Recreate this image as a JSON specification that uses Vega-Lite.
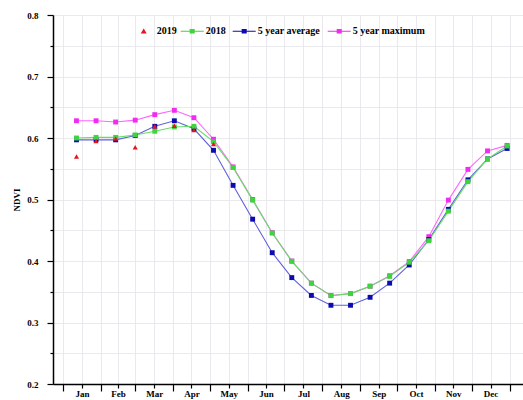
{
  "$schema": "https://vega.github.io/schema/vega-lite/v6.json",
  "autosize": {"type": "none"},
  "width": 470,
  "height": 369,
  "padding": {"left": 53, "top": 15, "right": 0, "bottom": 16},
  "background": "white",
  "config": {
    "font": "Liberation Serif",
    "view": {"stroke": null},
    "axis": {
      "domainColor": "#000000",
      "domainWidth": 1.5,
      "tickColor": "#000000",
      "tickWidth": 1.2,
      "gridColor": "#e3e3ea",
      "gridWidth": 0.8,
      "labelFont": "Liberation Serif",
      "labelFontWeight": "bold",
      "labelFontSize": 9,
      "labelColor": "#000000",
      "titleFont": "Liberation Serif",
      "titleFontWeight": "bold",
      "titleFontSize": 9,
      "titleColor": "#000000"
    },
    "legend": {
      "labelFont": "Liberation Serif",
      "labelFontWeight": "bold",
      "labelFontSize": 10,
      "labelColor": "#000000",
      "padding": 0
    }
  },
  "data": {
    "values": [
      {"day": 11, "series": "5 year maximum", "ndvi": 0.628},
      {"day": 27, "series": "5 year maximum", "ndvi": 0.628},
      {"day": 43, "series": "5 year maximum", "ndvi": 0.626},
      {"day": 59, "series": "5 year maximum", "ndvi": 0.629},
      {"day": 75, "series": "5 year maximum", "ndvi": 0.638},
      {"day": 91, "series": "5 year maximum", "ndvi": 0.645},
      {"day": 107, "series": "5 year maximum", "ndvi": 0.633},
      {"day": 123, "series": "5 year maximum", "ndvi": 0.598},
      {"day": 139, "series": "5 year maximum", "ndvi": 0.553},
      {"day": 155, "series": "5 year maximum", "ndvi": 0.5},
      {"day": 171, "series": "5 year maximum", "ndvi": 0.446},
      {"day": 187, "series": "5 year maximum", "ndvi": 0.4},
      {"day": 203, "series": "5 year maximum", "ndvi": 0.364},
      {"day": 219, "series": "5 year maximum", "ndvi": 0.344},
      {"day": 235, "series": "5 year maximum", "ndvi": 0.347},
      {"day": 251, "series": "5 year maximum", "ndvi": 0.359},
      {"day": 267, "series": "5 year maximum", "ndvi": 0.376},
      {"day": 283, "series": "5 year maximum", "ndvi": 0.399},
      {"day": 299, "series": "5 year maximum", "ndvi": 0.4395},
      {"day": 315, "series": "5 year maximum", "ndvi": 0.499},
      {"day": 331, "series": "5 year maximum", "ndvi": 0.549},
      {"day": 347, "series": "5 year maximum", "ndvi": 0.579},
      {"day": 363, "series": "5 year maximum", "ndvi": 0.588},
      {"day": 11, "series": "5 year average", "ndvi": 0.597},
      {"day": 27, "series": "5 year average", "ndvi": 0.597},
      {"day": 43, "series": "5 year average", "ndvi": 0.597},
      {"day": 59, "series": "5 year average", "ndvi": 0.604},
      {"day": 75, "series": "5 year average", "ndvi": 0.619},
      {"day": 91, "series": "5 year average", "ndvi": 0.628},
      {"day": 107, "series": "5 year average", "ndvi": 0.615},
      {"day": 123, "series": "5 year average", "ndvi": 0.58},
      {"day": 139, "series": "5 year average", "ndvi": 0.523},
      {"day": 155, "series": "5 year average", "ndvi": 0.468},
      {"day": 171, "series": "5 year average", "ndvi": 0.4135},
      {"day": 187, "series": "5 year average", "ndvi": 0.373},
      {"day": 203, "series": "5 year average", "ndvi": 0.344},
      {"day": 219, "series": "5 year average", "ndvi": 0.328},
      {"day": 235, "series": "5 year average", "ndvi": 0.328},
      {"day": 251, "series": "5 year average", "ndvi": 0.341},
      {"day": 267, "series": "5 year average", "ndvi": 0.364},
      {"day": 283, "series": "5 year average", "ndvi": 0.3935},
      {"day": 299, "series": "5 year average", "ndvi": 0.435},
      {"day": 315, "series": "5 year average", "ndvi": 0.484},
      {"day": 331, "series": "5 year average", "ndvi": 0.532},
      {"day": 347, "series": "5 year average", "ndvi": 0.566},
      {"day": 363, "series": "5 year average", "ndvi": 0.583},
      {"day": 11, "series": "2018", "ndvi": 0.6},
      {"day": 27, "series": "2018", "ndvi": 0.601},
      {"day": 43, "series": "2018", "ndvi": 0.601},
      {"day": 59, "series": "2018", "ndvi": 0.605},
      {"day": 75, "series": "2018", "ndvi": 0.611},
      {"day": 91, "series": "2018", "ndvi": 0.618},
      {"day": 107, "series": "2018", "ndvi": 0.619},
      {"day": 123, "series": "2018", "ndvi": 0.594},
      {"day": 139, "series": "2018", "ndvi": 0.552},
      {"day": 155, "series": "2018", "ndvi": 0.499},
      {"day": 171, "series": "2018", "ndvi": 0.4455},
      {"day": 187, "series": "2018", "ndvi": 0.3995},
      {"day": 203, "series": "2018", "ndvi": 0.364},
      {"day": 219, "series": "2018", "ndvi": 0.3436},
      {"day": 235, "series": "2018", "ndvi": 0.347},
      {"day": 251, "series": "2018", "ndvi": 0.359},
      {"day": 267, "series": "2018", "ndvi": 0.375},
      {"day": 283, "series": "2018", "ndvi": 0.398},
      {"day": 299, "series": "2018", "ndvi": 0.433},
      {"day": 315, "series": "2018", "ndvi": 0.481},
      {"day": 331, "series": "2018", "ndvi": 0.529},
      {"day": 347, "series": "2018", "ndvi": 0.566},
      {"day": 363, "series": "2018", "ndvi": 0.587},
      {"day": 11, "series": "2019", "ndvi": 0.57},
      {"day": 27, "series": "2019", "ndvi": 0.595},
      {"day": 43, "series": "2019", "ndvi": 0.599},
      {"day": 59, "series": "2019", "ndvi": 0.585},
      {"day": 75, "series": "2019", "ndvi": 0.619},
      {"day": 91, "series": "2019", "ndvi": 0.62},
      {"day": 107, "series": "2019", "ndvi": 0.613},
      {"day": 123, "series": "2019", "ndvi": 0.59}
    ]
  },
  "encoding": {
    "x": {
      "field": "day",
      "type": "quantitative",
      "scale": {"domain": [-8.2, 376], "nice": false, "zero": false},
      "axis": {
        "title": null,
        "values": [0, 15.5, 31, 45, 59, 74.5, 90, 105, 120, 135.5, 151, 166, 181, 196.5, 212, 227.5, 243, 258, 273, 288.5, 304, 319, 334, 349.5, 365],
        "labelExpr": "indexof([15.5,45,74.5,105,135.5,166,196.5,227.5,258,288.5,319,349.5], datum.value) >= 0 ? ['Jan','Feb','Mar','Apr','May','Jun','Jul','Aug','Sep','Oct','Nov','Dec'][indexof([15.5,45,74.5,105,135.5,166,196.5,227.5,258,288.5,319,349.5], datum.value)] : ''",
        "tickSize": {"condition": {"test": "indexof([15.5,45,74.5,105,135.5,166,196.5,227.5,258,288.5,319,349.5], datum.value) >= 0", "value": 4}, "value": 7},
        "labelPadding": 1,
        "labelOverlap": false,
        "labelFlush": false,
        "labelBound": false
      }
    },
    "y": {
      "field": "ndvi",
      "type": "quantitative",
      "scale": {"domain": [0.2, 0.8], "nice": false, "zero": false},
      "axis": {
        "title": "NDVI",
        "values": [0.2, 0.25, 0.3, 0.35, 0.4, 0.45, 0.5, 0.55, 0.6, 0.65, 0.7, 0.75, 0.8],
        "labelExpr": "abs(round(datum.value*100) % 10) < 0.5 ? format(datum.value, '.1f') : ''",
        "tickSize": {"condition": {"test": "abs(round(datum.value*100) % 10) < 0.5", "value": 6}, "value": 3},
        "labelPadding": 9,
        "titlePadding": 5,
        "labelOverlap": false
      }
    }
  },
  "layer": [
    {
      "transform": [{"filter": "datum.series !== '2019'"}],
      "mark": {"type": "line", "strokeWidth": 1.1},
      "encoding": {
        "stroke": {
          "field": "series",
          "type": "nominal",
          "scale": {
            "domain": ["5 year maximum", "5 year average", "2018"],
            "range": ["#ff66ff", "#6060dd", "#66dd66"]
          },
          "legend": null
        }
      }
    },
    {
      "transform": [{"filter": "datum.series !== '2019'"}],
      "mark": {"type": "point", "filled": true, "shape": "square", "size": 24, "opacity": 1},
      "encoding": {
        "color": {
          "field": "series",
          "type": "nominal",
          "scale": {
            "domain": ["2018", "5 year average", "5 year maximum"],
            "range": ["#3dd43d", "#0b0bb0", "#f02cf0"]
          },
          "legend": {
            "title": null,
            "orient": "none",
            "direction": "horizontal",
            "legendX": 127.7,
            "legendY": 4.5,
            "columnPadding": 7,
            "symbolSize": 529,
            "symbolType": "M-1,-0.045H-0.22V-0.2H0.22V-0.045H1V0.045H0.22V0.2H-0.22V0.045H-1Z",
            "symbolStrokeWidth": 0,
            "labelOffset": 2
          }
        }
      }
    },
    {
      "transform": [{"filter": "datum.series === '2019'"}],
      "mark": {"type": "point", "filled": true, "shape": "triangle-up", "size": 26, "opacity": 1},
      "encoding": {
        "fill": {
          "field": "series",
          "type": "nominal",
          "scale": {"domain": ["2019"], "range": ["#e6141e"]},
          "legend": {
            "title": null,
            "orient": "none",
            "direction": "horizontal",
            "legendX": 85.7,
            "legendY": 11,
            "symbolSize": 36,
            "symbolType": "triangle-up",
            "symbolStrokeWidth": 0,
            "labelOffset": 8
          }
        }
      }
    }
  ]
}
